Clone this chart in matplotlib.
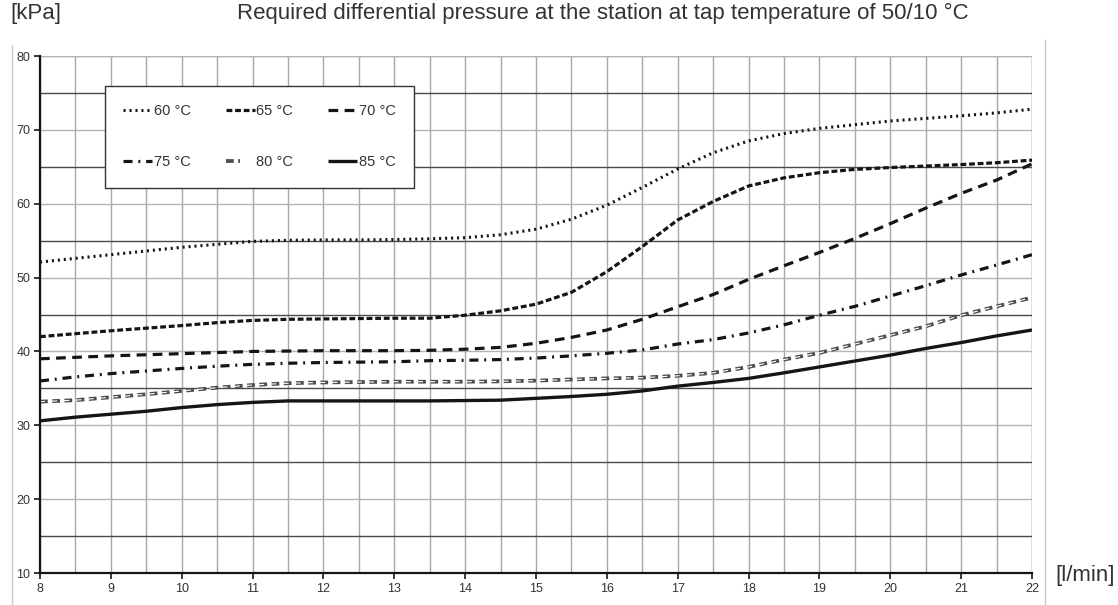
import numpy as np
import matplotlib
matplotlib.use("Agg")
import matplotlib.pyplot as plt
from matplotlib.lines import Line2D
from matplotlib.legend_handler import HandlerTuple

plt.rcParams['font.family'] = ['Liberation Sans', 'DejaVu Sans']
plt.rcParams['lines.scale_dashes'] = False

# flow [l/min]
flow = [8, 8.5, 9, 9.5, 10, 10.5, 11, 11.5, 12, 12.5, 13, 13.5, 14, 14.5, 15,
        15.5, 16, 16.5, 17, 17.5, 18, 18.5, 19, 19.5, 20, 20.5, 21, 21.5, 22]

# required differential pressure [kPa] per supply temperature
dp_60 = [52.1, 52.6, 53.1, 53.6, 54.1, 54.5, 54.9, 55.05, 55.1, 55.1, 55.15, 55.25, 55.4, 55.8, 56.55,
         57.9, 59.8, 62.2, 64.7, 66.9, 68.5, 69.5, 70.2, 70.7, 71.2, 71.55, 71.9, 72.3, 72.8]
dp_65 = [42.0, 42.4, 42.8, 43.15, 43.5, 43.9, 44.2, 44.35, 44.4, 44.45, 44.5, 44.5, 44.9, 45.5, 46.4,
         48.0, 50.8, 54.2, 57.8, 60.3, 62.4, 63.5, 64.2, 64.65, 64.9, 65.1, 65.3, 65.55, 65.9]
dp_70 = [39.0, 39.2, 39.4, 39.55, 39.7, 39.85, 40.0, 40.05, 40.1, 40.1, 40.1, 40.15, 40.3, 40.55, 41.1,
         41.9, 42.9, 44.35, 46.05, 47.7, 49.75, 51.6, 53.4, 55.3, 57.3, 59.4, 61.4, 63.2, 65.4]
dp_75 = [36.0, 36.55, 37.0, 37.35, 37.7, 38.0, 38.25, 38.4, 38.5, 38.55, 38.6, 38.75, 38.8, 38.9, 39.1,
         39.4, 39.75, 40.2, 41.0, 41.6, 42.5, 43.6, 44.9, 46.1, 47.5, 48.9, 50.35, 51.7, 53.1]
dp_80 = [33.2, 33.4, 33.8, 34.2, 34.65, 35.1, 35.45, 35.7, 35.8, 35.85, 35.9, 35.9, 35.9, 35.95, 36.05,
         36.2, 36.35, 36.45, 36.7, 37.1, 37.9, 38.9, 39.8, 41.0, 42.2, 43.4, 44.9, 46.1, 47.3]
dp_85 = [30.6, 31.1, 31.5, 31.9, 32.4, 32.8, 33.1, 33.3, 33.3, 33.3, 33.3, 33.3, 33.35, 33.4, 33.65,
         33.9, 34.2, 34.65, 35.3, 35.8, 36.35, 37.1, 37.9, 38.7, 39.5, 40.4, 41.2, 42.1, 42.9]

labels = ['60 °C', '65 °C', '70 °C', '75 °C', '80 °C', '85 °C']

x_ticks = list(range(8, 23))
y_ticks = list(range(10, 81, 10))

W, H = 1118, 605
fig = plt.figure(figsize=(W / 100, H / 100), dpi=100)
ax = fig.add_axes([40 / W, 1 - 573 / H, 992 / W, 517 / H])

text_col = '#333333'
ink = '#151515'

# curves (dash lengths in points)
l60, = ax.plot(flow, dp_60, color=ink, lw=2.2, linestyle=(0, (1.5, 2.8)), dash_capstyle='butt')
l65, = ax.plot(flow, dp_65, color=ink, lw=2.3, linestyle=(0, (4.2, 2.0)))
l70, = ax.plot(flow, dp_70, color=ink, lw=2.3, linestyle=(0, (7.0, 4.6)))
l75, = ax.plot(flow, dp_75, color=ink, lw=2.3, linestyle=(0, (6.5, 4.2, 1.4, 4.2)))
l80a, = ax.plot(flow, dp_80, color='#4d4d4d', lw=2.7, linestyle=(0, (5.6, 3.2)))
l80b, = ax.plot(flow, dp_80, color='white', lw=0.8, linestyle=(0.7, (4.2, 4.6)))
l85, = ax.plot(flow, dp_85, color=ink, lw=2.4, solid_capstyle='butt')

ax.set_xlim(8, 22)
ax.set_ylim(10, 80)

# grid
ax.set_xticks(x_ticks)
ax.set_xticks(np.arange(8.5, 22, 1), minor=True)
ax.set_yticks(y_ticks)
ax.set_yticks(np.arange(15, 80, 10), minor=True)
ax.set_axisbelow(True)
ax.grid(which='major', axis='x', color='#a8a8a8', lw=1.0)
ax.grid(which='minor', axis='x', color='#a8a8a8', lw=1.0)
ax.grid(which='major', axis='y', color='#b4b4b4', lw=1.0)
ax.grid(which='minor', axis='y', color='#4a4a4a', lw=1.0)

for s in ['top', 'right']:
    ax.spines[s].set_visible(False)
for s in ['left', 'bottom']:
    ax.spines[s].set_color(ink)
    ax.spines[s].set_linewidth(1.6)
ax.axhline(80, color='#a8a8a8', lw=1.0, zorder=0.5)
ax.axvline(22, color='#a8a8a8', lw=1.0, zorder=0.5)

ax.tick_params(which='major', direction='out', length=4, width=1.2, color=ink,
               labelsize=9, labelcolor=text_col, pad=3)
ax.tick_params(which='minor', length=0)

# legend (row-wise order)
handles = [l60, l75, l65, (l80a, l80b), l70, l85]
leg_labels = [labels[0], labels[3], labels[1], labels[4], labels[2], labels[5]]
leg = ax.legend(handles, leg_labels, ncol=3, loc='upper left',
                bbox_to_anchor=(0.0655, 0.942), borderaxespad=0, fontsize=10.5,
                frameon=True, fancybox=False, framealpha=1, edgecolor='#333333',
                handlelength=2.0, handletextpad=0.1, columnspacing=2.4,
                labelspacing=2.55, borderpad=1.25,
                handler_map={tuple: HandlerTuple(ndivide=None, pad=0)})
leg.get_frame().set_linewidth(1.0)
for t in leg.get_texts():
    t.set_color(text_col)

# texts
fig.text(10 / W, 1 - 13 / H, '[kPa]', fontsize=16, color=text_col, va='center', ha='left')
fig.text(603 / W, 1 - 13 / H, 'Required differential pressure at the station at tap temperature of 50/10 °C',
         fontsize=16, color=text_col, va='center', ha='center')
fig.text(1055 / W, 1 - 576 / H, '[l/min]', fontsize=16, color=text_col, va='center', ha='left')

# separator lines
fig.add_artist(Line2D([12 / W, 12 / W], [0, 1 - 45 / H], color='#c8c8c8', lw=1.0))
fig.add_artist(Line2D([1045 / W, 1045 / W], [0, 1 - 40 / H], color='#c8c8c8', lw=1.0))

fig.savefig('out.png', dpi=100)
